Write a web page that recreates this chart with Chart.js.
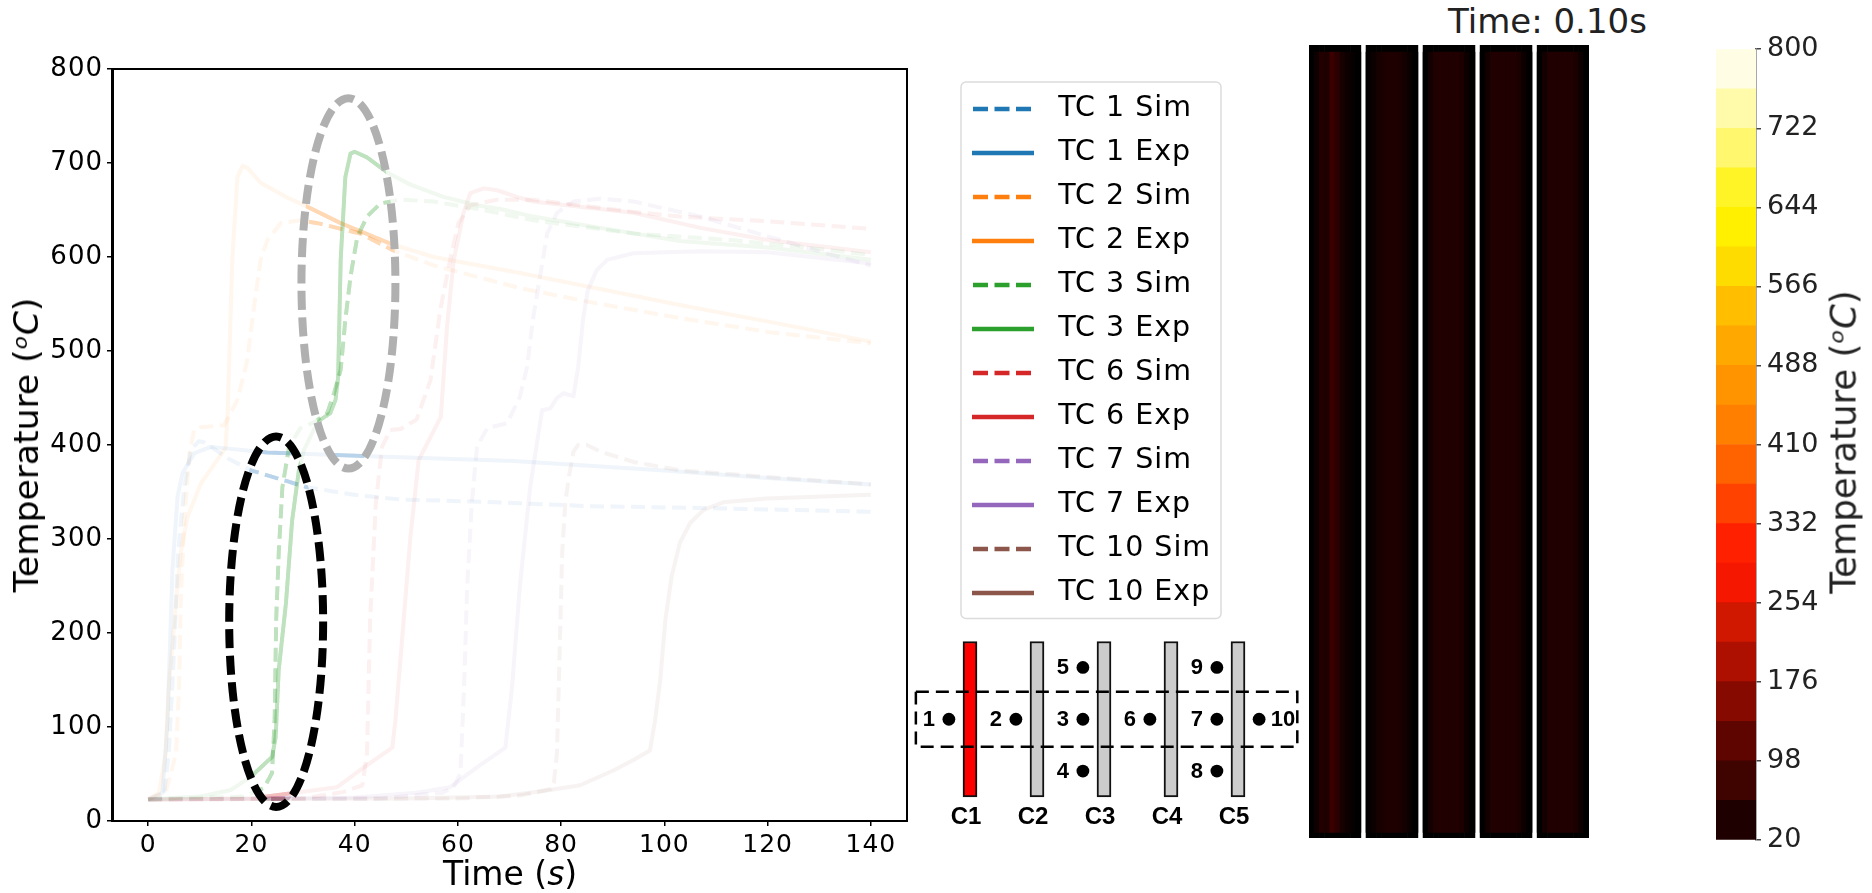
<!DOCTYPE html>
<html>
<head>
<meta charset="utf-8">
<title>Thermocouple temperatures</title>
<script src="https://cdn.jsdelivr.net/npm/chart.js@4/dist/chart.umd.min.js"></script>
<style>
  html, body { margin: 0; background: #fff; width: 1872px; height: 893px; overflow: hidden; font-family: "DejaVu Sans", sans-serif; }
  canvas { position: absolute; }
  .lbl { position: absolute; white-space: nowrap; color: #000; }
  .rot { transform: translate(-50%, -50%) rotate(-90deg); }
</style>
</head>
<body>
<canvas id="lines" width="1240" height="893" style="left:0px;top:0px"></canvas>
<canvas id="layout" width="402" height="200" style="left:903px;top:635px"></canvas>
<canvas id="panels" width="280" height="793" style="left:1309px;top:45px"></canvas>
<canvas id="bar" width="110" height="835" style="left:1716px;top:26.5px"></canvas>

<div class="lbl rot" style="left:26px;top:445px;font-size:34.5px">Temperature (<i>&#7506;C</i>)</div>
<div class="lbl" style="left:443px;top:854px;font-size:33px">Time (<i>s</i>)</div>
<div class="lbl" style="left:1448px;top:1px;font-size:34px;color:#222">Time: 0.10s</div>
<div class="lbl rot" style="left:1843px;top:442px;font-size:35.5px;color:#222">Temperature (<i>&#7506;C</i>)</div>

<script>
// temperature traces, [time, temperature]
const tc1Sim = [[0,23],[3,25],[4,72],[5,178],[5.8,285],[7,355],[8.3,395],[9.8,404],[10.8,403],[15.4,386],[19.9,373],[26,363],[30.8,355],[39.9,347],[48.9,342],[62.4,340],[72,338],[85,335],[107,333],[140,329]];
const tc1Exp = [[0,23],[2.8,30],[3.75,107],[4.4,214],[4.7,267],[5.7,345],[6.65,370],[8.9,391],[12.1,398],[23.1,392],[43,388],[70.8,383],[100,373],[120,365],[140,358]];
const tc2Sim = [[0,23],[3.4,30],[5.4,72],[6,143],[6.3,232],[7,320],[8,391],[8.9,416],[10.2,419],[14.7,421],[17.3,448],[19.2,490],[20.5,547],[21.8,597],[23.1,618],[25.7,636],[29.5,639],[32.8,636],[41.1,625],[47.5,607],[55.3,591],[72,567],[85.6,552],[103,535],[120.4,520],[140,508]];
const tc2Exp = [[0,23],[2.1,30],[3.4,72],[4,143],[5.4,232],[6.3,285],[7.6,323],[10.2,359],[15,397],[15.4,434],[16.3,597],[17.3,685],[18.3,697],[19.2,695],[21.8,679],[27,663],[29.5,657],[37.3,636],[47.5,613],[55.3,600],[72,583],[85.6,568],[103,549],[120.4,531],[140,510]];
const tc3Sim = [[0,23],[18.5,26],[22.4,35],[24,51],[24.5,107],[24.8,214],[25.3,285],[26,355],[27.3,398],[29.5,418],[32.1,424],[34.7,434],[36,455],[37.3,480],[38.2,533],[39.2,579],[40.5,621],[42.4,643],[45,657],[48.9,661],[55.3,659],[65,650],[74.6,639],[94,625],[113,618],[132.7,607],[140,602]];
const tc3Exp = [[0,23],[10.2,26],[16,33],[19.9,47],[24,68],[24.7,89],[25.3,161],[26.7,232],[27.9,320],[29.2,373],[30.2,395],[32.1,416],[33.4,427],[35.3,434],[36.3,448],[36.8,472],[37.3,597],[38.2,685],[39.2,710],[40,712],[42.4,706],[46.3,690],[50.8,677],[57.2,664],[63.7,655],[68.2,651],[74.6,643],[87.6,631],[103,617],[120,610],[140,597]];
const tc6Sim = [[0,23],[30,24],[37.9,31],[41.5,38],[42.4,72],[43,214],[44.1,338],[45.3,398],[46.9,416],[48.9,417],[52,427],[54.7,469],[56.6,544],[58.5,597],[60.1,636],[62.4,655],[67.6,661],[74.6,661],[94,648],[103,643],[120,638],[140,630]];
const tc6Exp = [[0,23],[20,24],[27,29],[36.6,36],[41.8,57],[47.3,78],[47.9,107],[49.5,214],[50.8,302],[52.4,384],[56.7,430],[57.9,526],[59.2,597],[61.1,647],[62.4,668],[65,673],[67.6,671],[72,663],[74.6,659],[94,647],[107,631],[120,618],[140,605]];
const tc7Sim = [[0,23],[45,24],[57,30],[59.2,36],[60.5,51],[61.2,143],[61.8,249],[62.7,338],[63.7,398],[65.7,418],[69.5,423],[72,451],[73.4,483],[74.6,536],[76,582],[77.3,625],[79.2,647],[82.4,659],[87.6,662],[94,659],[107,643],[120,622],[132.6,602],[140,591]];
const tc7Exp = [[0,23],[40,25],[52,30],[58.5,36],[63.7,57],[69.2,78],[70.5,143],[72,249],[74,355],[76.3,437],[77.9,439],[79.2,450],[80.4,455],[82.4,452],[83.3,483],[84.3,536],[85.2,565],[86.9,586],[88.9,597],[94,604],[107,606],[120,605],[140,593]];
const tc10Sim = [[0,23],[60,24],[72,27],[78,34],[78.6,41],[79.2,72],[79.7,178],[80.2,285],[80.8,338],[81.5,366],[82.4,393],[83.3,400],[85,400],[87.6,393],[94,382],[103,373],[120,366],[140,358]];
const tc10Exp = [[0,23],[50,24],[68.2,26],[76.6,32],[83.7,38],[90.2,54],[94,65],[97.2,75],[98.2,107],[99.2,150],[100.2,214],[101.4,260],[103,296],[105,317],[107.6,331],[111.4,339],[119.8,343],[140,347]];
const xTicks = [0, 20, 40, 60, 80, 100, 120, 140];
const yTicks = [0, 100, 200, 300, 400, 500, 600, 700, 800];

// schematic
const rodNames = ["C1", "C2", "C3", "C4", "C5"];
const tcNames = ["1", "2", "3", "4", "5", "6", "7", "8", "9", "10"];
const tcCol = [0.685, 1.685, 2.685, 2.685, 2.685, 3.685, 4.685, 4.685, 4.685, 5.315];
const tcRow = [0, 0, 0, -1, 1, 0, 0, -1, 1, 0];

// heat panels, one shade per column, null is the gap between rods
const panelShades = [
  "#000","#0e0000","#220000","#1e0000","#3a0000","#2a0000","#160000","#0e0000","#060000","#000",null,
  "#020000","#0c0000","#160000","#1c0000","#1e0000","#1e0000","#1c0000","#140000","#0a0000","#000",null,
  "#000","#140000","#200000","#200000","#200000","#200000","#200000","#1c0000","#0c0000","#000",null,
  "#000","#120000","#200000","#200000","#200000","#200000","#200000","#1c0000","#0c0000","#000",null,
  "#000","#140000","#200000","#200000","#200000","#200000","#200000","#1c0000","#0c0000","#000"
];

// colorbar
const cbLevels = [20,59,98,137,176,215,254,293,332,371,410,449,488,527,566,605,644,683,722,761,800];
const cbColors = ["#1f0000","#3f0300","#5e0500","#870a00","#ad1000","#d01700","#f51700","#ff2000","#ff4200","#ff6300","#ff8000","#ff9400","#ffa800","#ffbe00","#ffdc00","#fff000","#fff426","#fff76e","#fffbaa","#fffee4"];
const cbTicks = [20, 98, 176, 254, 332, 410, 488, 566, 644, 722, 800];

// ellipses in data units: centre t, centre T, half width, half height
const blackRing = [24.8, 212, 9.1, 197];
const grayRing = [38.8, 572, 9.1, 197];

const solid = { blue: "31,119,180", orange: "255,127,14", green: "44,160,44", red: "214,39,40", purple: "148,103,189", brown: "140,86,75" };

function trace(label, data, rgb, dashed) {
  return {
    label: label,
    data: data,
    borderColor: "rgba(" + rgb + ",0.07)",
    fullColor: "rgb(" + rgb + ")",
    borderWidth: 4,
    borderDash: dashed ? [14, 6.5] : [],
    borderJoinStyle: "round",
    pointRadius: 0,
    tension: 0,
    fill: false
  };
}

Chart.defaults.font.family = '"DejaVu Sans"';
Chart.defaults.animation = false;
Chart.defaults.responsive = false;
Chart.defaults.color = "#000";

function ringPath(ctx, chart, ring) {
  const xs = chart.scales.x, ys = chart.scales.y;
  const cx = xs.getPixelForValue(ring[0]), cy = ys.getPixelForValue(ring[1]);
  const rx = xs.getPixelForValue(ring[0] + ring[2]) - cx;
  const ry = cy - ys.getPixelForValue(ring[1] + ring[3]);
  ctx.beginPath();
  ctx.ellipse(cx, cy, rx, ry, 0, 0, Math.PI * 2);
}

const ringPlugin = {
  id: "rings",
  afterLayout(chart) {
    // legend sits between the plot and the schematic
    chart.legend.left = 956.5;
    chart.legend.top = 79.25;
    chart.legend.right = 1230;
    chart.legend.bottom = 625;
  },
  beforeDraw(chart) {
    const ctx = chart.ctx;
    ctx.save();
    ctx.strokeStyle = "#dcdcdc";
    ctx.lineWidth = 1.5;
    ctx.beginPath();
    ctx.roundRect(961, 82, 260, 536.5, 5);
    ctx.stroke();
    ctx.restore();
    ctx.letterSpacing = "1px";
  },
  afterDatasetsDraw(chart) {
    const ctx = chart.ctx;
    [blackRing, grayRing].forEach(function (ring) {
      ctx.save();
      ringPath(ctx, chart, ring);
      ctx.clip();
      // stacking the faded lines makes them stronger inside the ring
      chart.data.datasets.forEach(function (d, i) {
        const line = chart.getDatasetMeta(i).dataset;
        line.draw(ctx, chart.chartArea);
        line.draw(ctx, chart.chartArea);
        line.draw(ctx, chart.chartArea);
        line.draw(ctx, chart.chartArea);
      });
      ctx.restore();
    });
  },
  afterDraw(chart) {
    const ctx = chart.ctx, a = chart.chartArea;
    ctx.save();
    ctx.lineWidth = 8;
    ctx.setLineDash([19, 7.5]);
    ctx.strokeStyle = "#000";
    ringPath(ctx, chart, blackRing);
    ctx.stroke();
    ctx.strokeStyle = "#b0b0b0";
    ringPath(ctx, chart, grayRing);
    ctx.stroke();
    ctx.setLineDash([]);
    ctx.lineWidth = 2;
    ctx.strokeStyle = "#000";
    ctx.strokeRect(a.left, a.top, a.right - a.left, a.bottom - a.top);
    ctx.restore();
  }
};

new Chart("lines", {
  type: "line",
  data: {
    datasets: [
      trace("TC 1 Sim", tc1Sim, solid.blue, true),
      trace("TC 1 Exp", tc1Exp, solid.blue, false),
      trace("TC 2 Sim", tc2Sim, solid.orange, true),
      trace("TC 2 Exp", tc2Exp, solid.orange, false),
      trace("TC 3 Sim", tc3Sim, solid.green, true),
      trace("TC 3 Exp", tc3Exp, solid.green, false),
      trace("TC 6 Sim", tc6Sim, solid.red, true),
      trace("TC 6 Exp", tc6Exp, solid.red, false),
      trace("TC 7 Sim", tc7Sim, solid.purple, true),
      trace("TC 7 Exp", tc7Exp, solid.purple, false),
      trace("TC 10 Sim", tc10Sim, solid.brown, true),
      trace("TC 10 Exp", tc10Exp, solid.brown, false)
    ]
  },
  options: {
    layout: { padding: { top: 69, right: 333 } },
    scales: {
      x: {
        type: "linear", min: -7, max: 147,
        afterBuildTicks: function (s) { s.ticks = xTicks.map(function (v) { return { value: v }; }); },
        afterFit: function (s) { s.height = 72; },
        ticks: { font: { size: 25 }, maxRotation: 0, autoSkip: false, padding: 4 },
        grid: { drawOnChartArea: false, tickLength: 5, color: "#000", lineWidth: 1.5 },
        border: { color: "#000", width: 2 }
      },
      y: {
        min: 0, max: 800,
        afterBuildTicks: function (s) { s.ticks = yTicks.map(function (v) { return { value: v }; }); },
        afterFit: function (s) { s.width = 112; },
        ticks: { font: { size: 26 }, autoSkip: false, padding: 4 },
        grid: { drawOnChartArea: false, tickLength: 5, color: "#000", lineWidth: 1.5 },
        border: { color: "#000", width: 3 }
      }
    },
    plugins: {
      tooltip: { enabled: false },
      legend: {
        position: "chartArea",
        align: "start",
        labels: {
          usePointStyle: true,
          pointStyle: "line",
          pointStyleWidth: 62,
          padding: 15.5,
          color: "#000",
          font: { size: 28.5 },
          generateLabels: function (chart) {
            return Chart.defaults.plugins.legend.labels.generateLabels(chart).map(function (item, i) {
              const d = chart.data.datasets[i];
              item.strokeStyle = d.fullColor;
              item.fillStyle = d.fullColor;
              item.lineWidth = 4.5;
              item.lineDash = d.borderDash.length ? [15, 6.5] : [];
              item.lineDashOffset = d.borderDash.length ? -1 : 0;
              item.text = " " + item.text;
              return item;
            });
          }
        }
      }
    }
  },
  plugins: [ringPlugin]
});

// schematic of rods and thermocouples
const nameTags = {
  id: "nameTags",
  afterDatasetsDraw(chart) {
    const ctx = chart.ctx;
    const pts = chart.getDatasetMeta(2).data;
    ctx.save();
    ctx.fillStyle = "#000";
    ctx.font = 'bold 22px "Liberation Sans"';
    ctx.textAlign = "center";
    ctx.textBaseline = "middle";
    tcNames.forEach(function (n, i) {
      const dx = n === "10" ? 24 : -20;
      ctx.fillText(n, pts[i].x + dx, pts[i].y + 1);
    });
    ctx.restore();
  }
};

new Chart("layout", {
  type: "bar",
  data: {
    datasets: [
      {
        data: rodNames.map(function (n, i) { return { x: i + 1, y: [-1.5, 1.5] }; }),
        backgroundColor: ["#ff0000", "#cccccc", "#cccccc", "#cccccc", "#cccccc"],
        borderColor: "#111",
        borderWidth: 2,
        borderSkipped: false,
        barThickness: 14,
        order: 3,
        clip: false
      },
      {
        type: "scatter",
        data: [{x:0.192,y:0.53},{x:5.885,y:0.53},{x:5.885,y:-0.53},{x:0.192,y:-0.53},{x:0.192,y:0.53}],
        showLine: true,
        borderColor: "#000",
        borderWidth: 2.5,
        borderDash: [13, 7],
        pointRadius: 0,
        order: 2,
        clip: false
      },
      {
        type: "scatter",
        data: tcCol.map(function (c, i) { return { x: c, y: tcRow[i] }; }),
        pointRadius: 6.4,
        backgroundColor: "#000",
        borderWidth: 0,
        order: 1
      }
    ]
  },
  options: {
    layout: { padding: { top: 6.5 }, autoPadding: false },
    scales: {
      x: {
        type: "linear", min: 0, max: 6, offset: false,
        afterBuildTicks: function (s) { s.ticks = rodNames.map(function (n, i) { return { value: i + 1 }; }); },
        ticks: {
          autoSkip: false, maxRotation: 0, padding: -2, labelOffset: -4,
          font: { family: '"Liberation Sans"', size: 24, weight: "bold" },
          callback: function (v) { return rodNames[v - 1]; }
        },
        afterFit: function (s) { s.height = 38; },
        grid: { display: false },
        border: { display: false }
      },
      y: { min: -1.5, max: 1.5, display: false }
    },
    plugins: { legend: { display: false }, tooltip: { enabled: false } }
  },
  plugins: [nameTags]
});

// rod temperature panels, first dataset is painted on top
new Chart("panels", {
  type: "bar",
  data: {
    labels: panelShades.map(function (s, i) { return i; }),
    datasets: [
      {
        data: panelShades.map(function (s) { return s === null ? null : [0.007, 0.991]; }),
        backgroundColor: panelShades,
        barPercentage: 1, categoryPercentage: 1
      },
      {
        data: panelShades.map(function (s) { return s === null ? null : [0, 1]; }),
        backgroundColor: "#000",
        barPercentage: 1, categoryPercentage: 1
      }
    ]
  },
  options: {
    scales: {
      x: { stacked: true, display: false },
      y: { min: 0, max: 1, display: false }
    },
    plugins: { legend: { display: false }, tooltip: { enabled: false } }
  }
});

// colorbar
new Chart("bar", {
  type: "bar",
  data: {
    labels: [""],
    datasets: cbColors.map(function (c, i) {
      return { data: [[cbLevels[i], cbLevels[i + 1]]], backgroundColor: c, barPercentage: 1, categoryPercentage: 1 };
    })
  },
  options: {
    layout: { autoPadding: false },
    scales: {
      x: { stacked: true, display: false },
      y: {
        position: "right", min: 20, max: 800,
        afterBuildTicks: function (s) { s.ticks = cbTicks.map(function (v) { return { value: v }; }); },
        afterFit: function (s) { s.width = 70; },
        ticks: { font: { size: 27 }, color: "#222", autoSkip: false, padding: 6 },
        grid: { drawOnChartArea: false, tickLength: 5, color: "#444", lineWidth: 1.5 },
        border: { color: "#555", width: 1.5 }
      }
    },
    plugins: { legend: { display: false }, tooltip: { enabled: false } }
  }
});
</script>
</body>
</html>
